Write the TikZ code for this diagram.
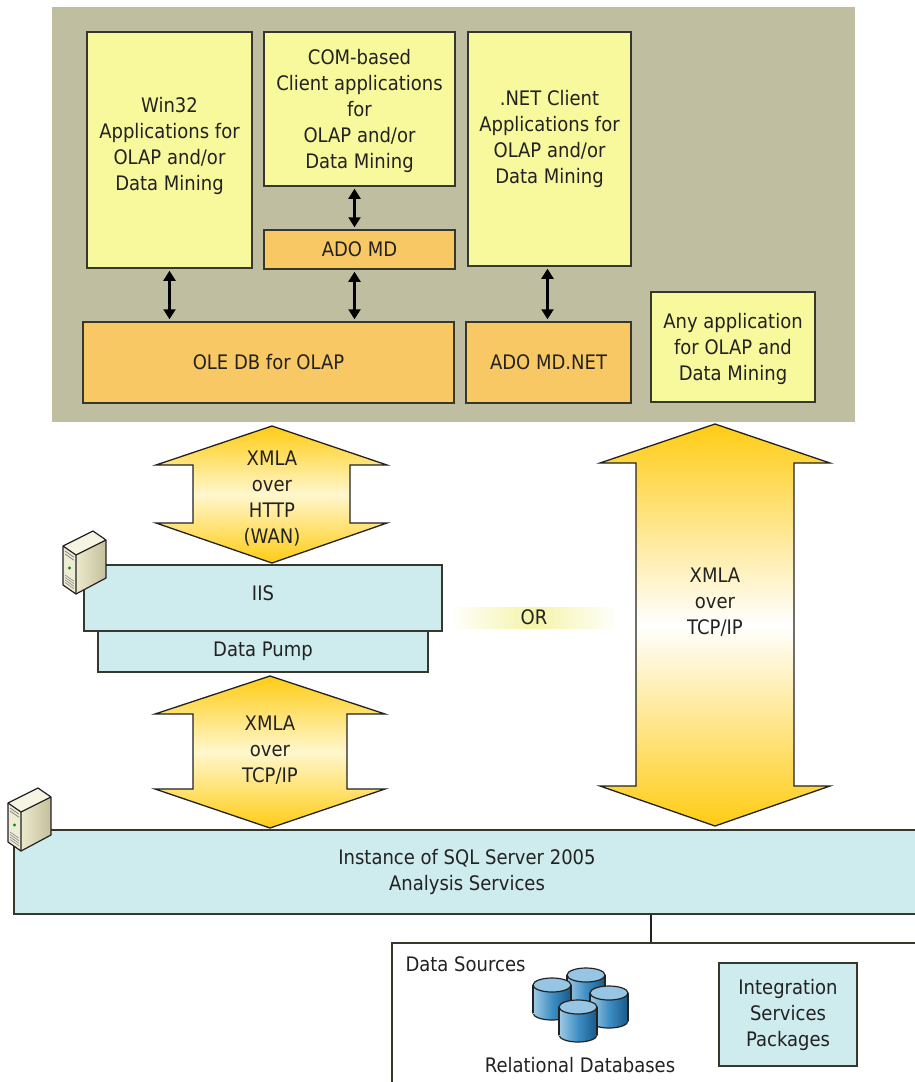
\documentclass[tikz,border=0pt]{standalone}
\usepackage{fontspec}
\setmainfont{DejaVu Sans}[FakeStretch=0.9]
\usetikzlibrary{arrows.meta}

\definecolor{ink}{RGB}{34,34,34}
\definecolor{boxline}{RGB}{55,55,45}
\definecolor{panel}{RGB}{192,190,161}
\definecolor{appyellow}{RGB}{248,248,156}
\definecolor{liborange}{RGB}{248,200,100}
\definecolor{srvcyan}{RGB}{206,235,238}
\definecolor{gold}{RGB}{255,204,20}
\definecolor{palegold}{RGB}{255,247,205}
\definecolor{orpale}{RGB}{244,244,168}
\definecolor{srvtop}{RGB}{246,244,226}
\definecolor{srvfront}{RGB}{238,236,212}
\definecolor{srvside}{RGB}{236,233,204}
\definecolor{srvshade}{RGB}{196,192,156}
\definecolor{dblight}{RGB}{160,203,230}
\definecolor{dbmid}{RGB}{62,142,196}
\definecolor{dbdark}{RGB}{24,88,138}
\definecolor{dbtop}{RGB}{150,198,228}

\newcommand\diagfont{\fontsize{20}{26}\selectfont}

\tikzset{
    appbox/.style={draw=boxline, line width=1.5pt, fill=appyellow, inner sep=0pt,
        align=center, font=\diagfont, text=ink},
    libbox/.style={appbox, fill=liborange},
    srvbox/.style={appbox, fill=srvcyan},
    arrowtext/.style={align=center, font=\diagfont, text=ink},
    xmla/.style={draw=ink, line width=1.3pt, line join=miter,
        top color=gold, bottom color=gold, middle color=palegold},
    xmlalong/.style={xmla, middle color=white},
    link/.style={line width=2.2pt, {Triangle[width=12pt,length=10pt]}-{Triangle[width=12pt,length=10pt]},
        shorten >=2pt, shorten <=2pt},
    srvline/.style={ink, line width=1.2pt, line join=round},
}

\begin{document}
\begin{tikzpicture}[x=1pt, y=-1pt]
        \useasboundingbox (0,0) rectangle (914,1082);

        \node[fill=panel, minimum width=803pt, minimum height=415pt] (clients) at (453.5,214.5) {};

        \node[appbox, minimum width=165pt, minimum height=236pt, text depth=13pt] (win32) at (169.5,150)
            {Win32\\Applications for\\OLAP and/or\\Data Mining};
        \node[appbox, minimum width=191pt, minimum height=154pt, text depth=-7.3pt] (com) at (359.5,109)
            {COM-based\\Client applications\\for\\OLAP and/or\\Data Mining};
        \node[libbox, minimum width=191pt, minimum height=39pt] (adomd) at (359.5,249.5) {ADO MD};
        \node[libbox, minimum width=371pt, minimum height=81pt] (oledb) at (268.5,362.5) {OLE DB for OLAP};
        \node[appbox, minimum width=163pt, minimum height=234pt, text depth=25pt] (net) at (549.5,149)
            {.NET Client\\Applications for\\OLAP and/or\\Data Mining};
        \node[libbox, minimum width=165pt, minimum height=81pt] (adonet) at (548.5,362.5) {ADO MD.NET};
        \node[appbox, minimum width=164pt, minimum height=110pt, text depth=-11.3pt] (anyapp) at (733,347)
            {Any application\\for OLAP and\\Data Mining};

        \draw[link] (win32.south) -- (win32.south |- oledb.north);
        \draw[link] ([xshift=-5pt]com.south) -- ([xshift=-5pt]adomd.north);
        \draw[link] ([xshift=-5pt]adomd.south) -- ([xshift=-5pt]adomd.south |- oledb.north);
        \draw[link] ([xshift=-2pt]net.south) -- ([xshift=-2pt]net.south |- adonet.north);

        \draw[xmla] (272,426) -- (387,465) -- (350,465) -- (350,523) -- (387,523) -- (272,563)
            -- (156,523) -- (193,523) -- (193,465) -- (156,465) -- cycle;
        \node[arrowtext] (http) at (272,499) {XMLA\\over\\HTTP\\(WAN)};

        \draw[xmla] (270,676) -- (385,714) -- (347,714) -- (347,789) -- (385,789) -- (270,828)
            -- (155,789) -- (193,789) -- (193,714) -- (155,714) -- cycle;
        \node[arrowtext] (tcpleft) at (270,750) {XMLA\\over\\TCP/IP};

        \draw[xmlalong] (715,424) -- (830,463) -- (794,463) -- (794,786) -- (830,786) -- (715,826)
            -- (600,786) -- (636,786) -- (636,463) -- (600,463) -- cycle;
        \node[arrowtext] (tcpright) at (715,602) {XMLA\\over\\TCP/IP};

        \node[srvbox, minimum width=358pt, minimum height=66pt, text depth=10pt] (iis) at (263,598) {IIS};
        \node[srvbox, minimum width=330pt, minimum height=41pt] (pump) at (263,651.5) {Data Pump};

        \node[arrowtext, inner sep=0pt, minimum width=168pt, minimum height=21pt,
            left color=white, right color=white, middle color=orpale] (or) at (534,617.5) {OR};

        \node[srvbox, minimum width=906pt, minimum height=84pt] (sql) at (467,872)
            {Instance of SQL Server 2005\\Analysis Services};

        \foreach \sx/\sy in {63/546, 8/803} {
            \begin{scope}[shift={(\sx,\sy)}]
                \fill[srvtop] (0,0) -- (30,-15) -- (43,-6) -- (13,9) -- cycle;
                \shade[left color=srvside, right color=srvshade] (13,9) -- (43,-6) -- (43,32) -- (13,48) -- cycle;
                \fill[srvfront] (0,0) -- (13,9) -- (13,48) -- (0,39) -- cycle;
                \draw[ink!60, line width=0.7pt] (2,5) -- (11,11.2) (2,8) -- (11,14.2);
                \fill[green!55!black] (6.5,22) circle (1.6pt);
                \foreach \v in {29,31.5,34,36.5} {
                    \draw[ink!55, line width=0.6pt] (2,\v) -- (11,\v+6.2);
                }
                \draw[srvline] (0,0) -- (30,-15) -- (43,-6) -- (43,32) -- (13,48) -- (0,39) -- cycle;
                \draw[srvline] (0,0) -- (13,9) -- (13,48) (13,9) -- (43,-6);
            \end{scope}
        }

        \coordinate (dstop) at (651,943);
        \draw[ink, line width=2.6pt] (sql.south -| dstop) -- (dstop);
        \draw[boxline, line width=1.5pt] (392,1095) |- (930,943);
        \node[arrowtext, anchor=west] (dslabel) at (402,964) {Data Sources};

        \foreach \cx/\cy in {586/975, 552/985, 609/993, 578/1007} {
            \draw[ink, line width=1.2pt, left color=dblight, right color=dbdark, middle color=dbmid]
                (\cx,\cy+28) ellipse [x radius=19pt, y radius=7pt];
            \shade[left color=dblight, right color=dbdark, middle color=dbmid]
                (\cx-19,\cy) rectangle (\cx+19,\cy+28);
            \draw[ink, line width=1.2pt] (\cx-19,\cy) -- (\cx-19,\cy+28) (\cx+19,\cy) -- (\cx+19,\cy+28);
            \draw[ink, line width=1.2pt, fill=dbtop] (\cx,\cy) ellipse [x radius=19pt, y radius=7pt];
        }
        \node[arrowtext] (rdb) at (580,1065) {Relational Databases};

        \node[srvbox, minimum width=138pt, minimum height=103pt] (ssis) at (788,1014.5)
            {Integration\\Services\\Packages};
    \end{tikzpicture}
\end{document}
